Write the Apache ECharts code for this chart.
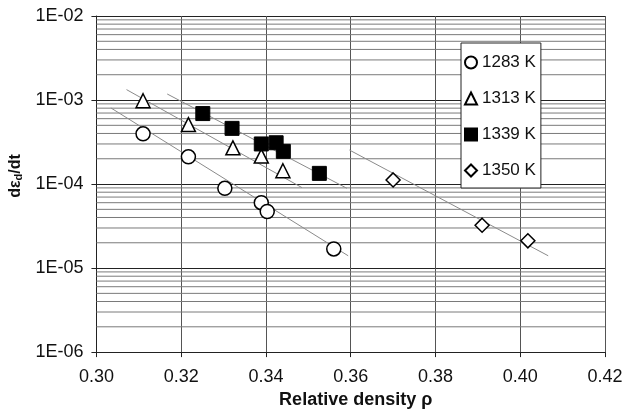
<!DOCTYPE html>
<html>
<head>
<meta charset="utf-8">
<script src="https://cdn.jsdelivr.net/npm/echarts@6/dist/echarts.min.js"></script>
<style>
  html, body { margin: 0; padding: 0; background: #fff; }
  #chart { width: 635px; height: 414px; }
</style>
</head>
<body>
<div id="chart"></div>
<script>
  // measured points, relative density vs densification rate
  var rho1283 = [0.311, 0.3217, 0.3303, 0.3389, 0.3403, 0.356]
  var rate1283 = [3.96e-4, 2.11e-4, 8.9e-5, 6.0e-5, 4.71e-5, 1.69e-5]
  var rho1313 = [0.311, 0.3217, 0.3322, 0.3389, 0.344]
  var rate1313 = [9.8e-4, 5.1e-4, 2.7e-4, 2.15e-4, 1.44e-4]
  var rho1339 = [0.3251, 0.332, 0.3389, 0.3424, 0.3441, 0.3526]
  var rate1339 = [6.9e-4, 4.6e-4, 3.0e-4, 3.1e-4, 2.45e-4, 1.34e-4]
  var rho1350 = [0.370, 0.391, 0.4018]
  var rate1350 = [1.12e-4, 3.24e-5, 2.11e-5]

  // trend lines (end points)
  var fitRho1283 = [0.3034, 0.3594]
  var fitRate1283 = [8.06e-4, 1.40e-5]
  var fitRho1313 = [0.3071, 0.3485]
  var fitRate1313 = [1.33e-3, 9.06e-5]
  var fitRho1339 = [0.3167, 0.3591]
  var fitRate1339 = [1.18e-3, 8.9e-5]
  var fitRho1350 = [0.3597, 0.4066]
  var fitRate1350 = [2.54e-4, 1.40e-5]

  var seriesNames = ['1283 K', '1313 K', '1339 K', '1350 K']
  var decades = [-6, -5, -4, -3]
  var xMin = 0.30
  var xMax = 0.42

  function pairs(xs, ys) {
    return xs.map(function (x, i) { return [x, ys[i]] })
  }

  // minor log grid lines 2..9 per decade, drawn as plain horizontal lines
  var minorSeries = []
  decades.forEach(function (e) {
    for (var k = 2; k <= 9; k++) {
      var v = k * Math.pow(10, e)
      minorSeries.push({
        type: 'line',
        data: [[xMin, v], [xMax, v]],
        symbol: 'none',
        silent: true,
        z: 1,
        lineStyle: { color: '#7a7a7a', width: 1 }
      })
    }
  })

  function fitLine(xs, ys) {
    return {
      type: 'line',
      data: pairs(xs, ys),
      symbol: 'none',
      silent: true,
      z: 3,
      lineStyle: { color: '#8a8a8a', width: 1 }
    }
  }

  var font = 'Liberation Sans, Arial, sans-serif'
  var myChart = echarts.init(document.getElementById('chart'))
  myChart.setOption({
    animation: false,
    textStyle: { fontFamily: font },
    grid: { left: 96, right: 30, top: 16, bottom: 61 },
    legend: {
      data: seriesNames,
      orient: 'vertical',
      align: 'left',
      left: 461,
      top: 43,
      padding: [11, 5, 9, 3],
      itemGap: 19,
      itemWidth: 12,
      itemHeight: 12,
      backgroundColor: '#fff',
      borderColor: '#222',
      borderWidth: 1,
      textStyle: { fontSize: 17, color: '#111', fontFamily: font }
    },
    xAxis: {
      type: 'value',
      min: xMin,
      max: xMax,
      interval: 0.02,
      name: 'Relative density ρ',
      nameLocation: 'middle',
      nameGap: 38,
      nameTextStyle: { fontSize: 18, fontWeight: 'bold', color: '#111', padding: [0, 0, 0, 10] },
      axisLine: { onZero: false, lineStyle: { color: '#222', width: 1 } },
      axisTick: { show: true, length: 5, lineStyle: { color: '#222' } },
      axisLabel: { fontSize: 18, color: '#111', margin: 16, formatter: function (v) { return v.toFixed(2) } },
      splitLine: { show: true, lineStyle: { color: '#555', width: 1 } }
    },
    yAxis: {
      type: 'log',
      logBase: 10,
      min: 1e-6,
      max: 1e-2,
      name: 'd{e|ε}{sub|d}/dt',
      nameLocation: 'middle',
      nameGap: 66,
      nameTextStyle: {
        fontSize: 16, fontWeight: 'bold', color: '#111', padding: [0, 0, 0, 16],
        rich: {
          e: { fontSize: 16, fontWeight: 'bold', color: '#111' },
          sub: { fontSize: 11, fontWeight: 'bold', color: '#111', verticalAlign: 'bottom', padding: [6, 0, 0, 0] }
        }
      },
      axisLine: { lineStyle: { color: '#222', width: 1 } },
      axisTick: { show: true, length: 5, lineStyle: { color: '#222' } },
      axisLabel: {
        fontSize: 18, color: '#111', margin: 13,
        formatter: function (v) {
          var e = Math.round(Math.log10(v))
          return '1E' + (e < 0 ? '-' : '+') + String(Math.abs(e)).padStart(2, '0')
        }
      },
      splitLine: { show: true, lineStyle: { color: '#222', width: 1 } }
    },
    series: minorSeries.concat([
      fitLine(fitRho1283, fitRate1283),
      fitLine(fitRho1313, fitRate1313),
      fitLine(fitRho1339, fitRate1339),
      fitLine(fitRho1350, fitRate1350),
      {
        name: '1283 K',
        type: 'scatter',
        symbol: 'circle',
        symbolSize: 14,
        z: 5,
        itemStyle: { color: '#fff', borderColor: '#000', borderWidth: 1.5, opacity: 1 },
        data: pairs(rho1283, rate1283)
      },
      {
        name: '1313 K',
        type: 'scatter',
        symbol: 'triangle',
        symbolSize: 14,
        z: 5,
        itemStyle: { color: '#fff', borderColor: '#000', borderWidth: 1.5, opacity: 1 },
        data: pairs(rho1313, rate1313)
      },
      {
        name: '1339 K',
        type: 'scatter',
        symbol: 'rect',
        symbolSize: 14,
        z: 5,
        itemStyle: { color: '#000', borderColor: '#000', borderWidth: 1, opacity: 1 },
        data: pairs(rho1339, rate1339)
      },
      {
        name: '1350 K',
        type: 'scatter',
        symbol: 'diamond',
        symbolSize: 14,
        z: 5,
        itemStyle: { color: '#fff', borderColor: '#000', borderWidth: 1.5, opacity: 1 },
        data: pairs(rho1350, rate1350)
      }
    ])
  })
</script>
</body>
</html>
